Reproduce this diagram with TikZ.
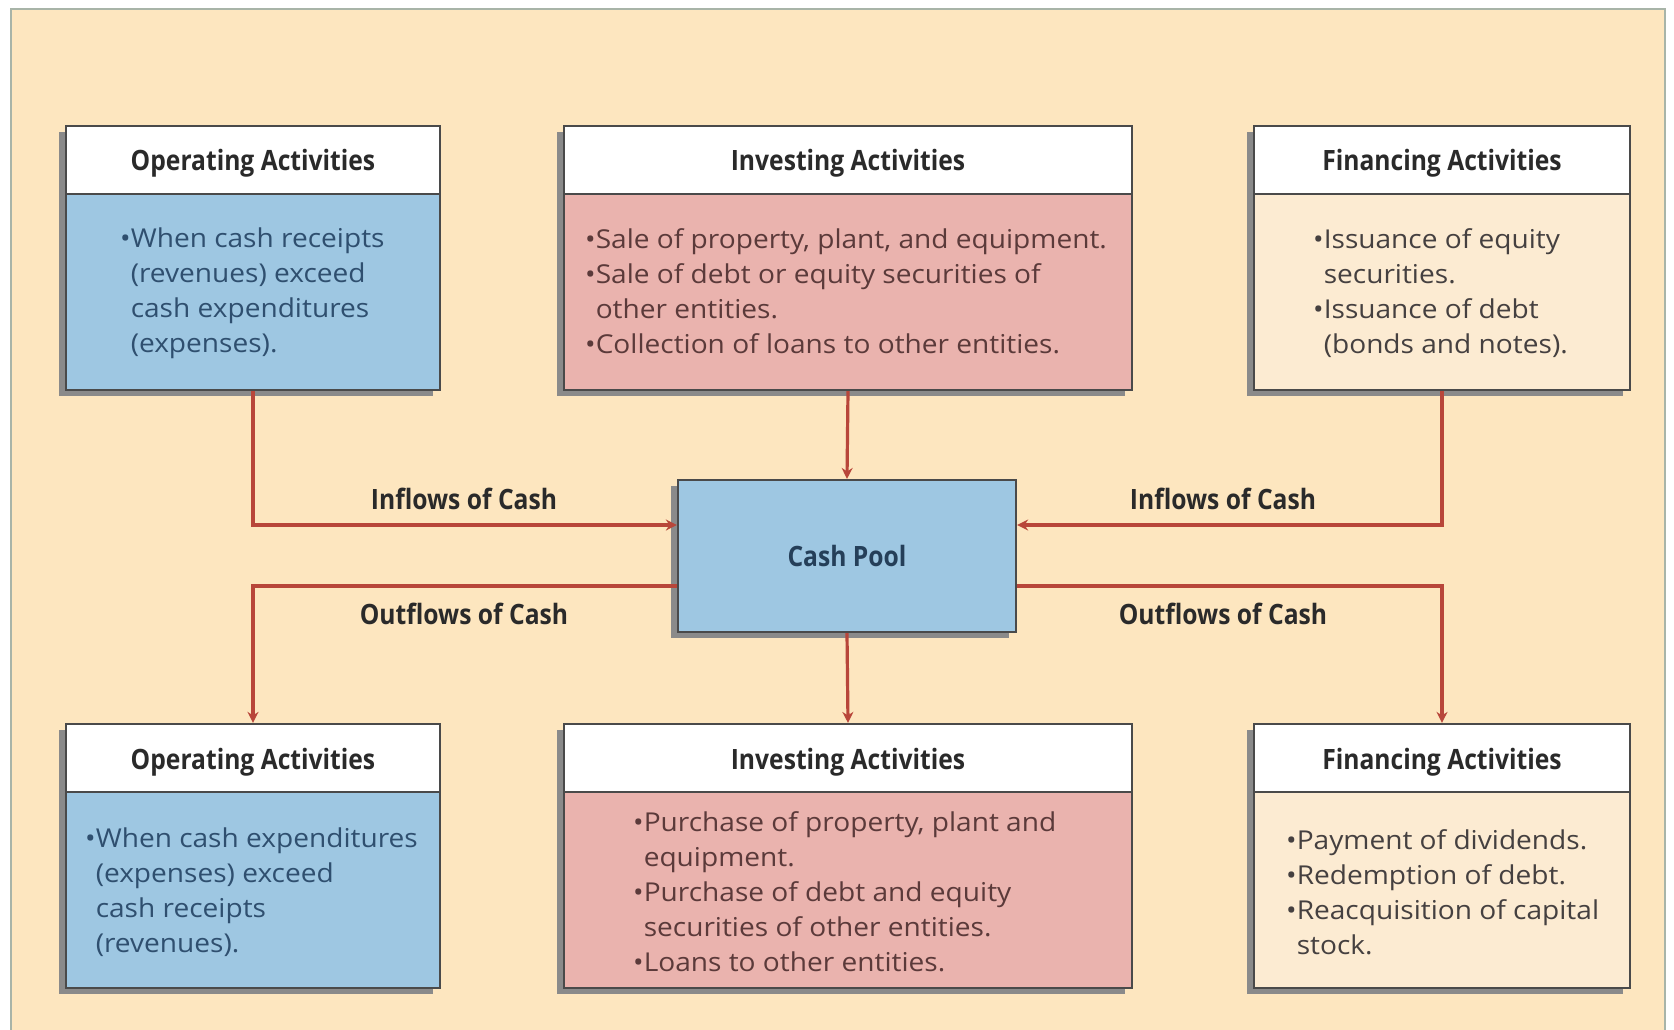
\documentclass[tikz,border=0pt]{standalone}
\usepackage{fontspec}
\setmainfont{Open Sans}
\newfontfamily\hdfont[FakeStretch=0.88]{Open Sans}
\newfontfamily\bdfont[FakeStretch=1.08]{Open Sans}
\usetikzlibrary{shadows,arrows.meta}
\definecolor{bgcol}{HTML}{FDE6BF}
\definecolor{framecol}{HTML}{A8B4A8}
\definecolor{bluecol}{HTML}{9EC7E2}
\definecolor{pinkcol}{HTML}{EAB3AE}
\definecolor{creamcol}{HTML}{FCEBD2}
\definecolor{bordercol}{HTML}{4A4A4A}
\definecolor{shadowcol}{HTML}{8A8A8A}
\definecolor{arrcol}{HTML}{B8463A}
\definecolor{optext}{HTML}{2F4F6F}
\definecolor{invtext}{HTML}{5B3A3A}
\definecolor{fintext}{HTML}{454040}
\definecolor{hdtext}{HTML}{2A2A2A}
\begin{document}
\begin{tikzpicture}[x=1pt,y=-1pt,
  bigbox/.style={draw=bordercol, line width=2.2pt, inner sep=0pt,
    drop shadow={shadow xshift=-7pt,shadow yshift=-6pt,fill=shadowcol,opacity=1}},
  actbox/.style={bigbox, minimum height=264pt},
  hdrbox/.style={draw=bordercol, line width=2.2pt, fill=white, inner sep=0pt,
    minimum height=68pt, anchor=north, text=hdtext, text height=24pt, text depth=2pt,
    font=\hdfont\bfseries\fontsize{28}{32}\selectfont},
  bodytext/.style={anchor=north west, align=left, inner sep=0pt,
    font=\bdfont\fontsize{26}{35}\selectfont},
  lbl/.style={text=hdtext, font=\hdfont\bfseries\fontsize{28}{32}\selectfont, inner sep=0pt},
  arr/.style={draw=arrcol, line width=3.2pt, -{Stealth[length=11pt,width=11pt]}}
]
\useasboundingbox (0,0) rectangle (1674,1030);
\fill[white] (0,0) rectangle (1674,1030);
\draw[framecol, fill=bgcol, line width=1.2pt] (11,9) rectangle (1665,1040);

% top boxes
\node[actbox, fill=bluecol, minimum width=374pt] (opin) at (253,258) {};
\node[hdrbox, minimum width=374pt] (opinh) at (opin.north) {Operating Activities};
\node[actbox, fill=pinkcol, minimum width=568pt] (invin) at (848,258) {};
\node[hdrbox, minimum width=568pt] (invinh) at (invin.north) {Investing Activities};
\node[actbox, fill=creamcol, minimum width=376pt] (finin) at (1442,258) {};
\node[hdrbox, minimum width=376pt] (fininh) at (finin.north) {Financing Activities};

% bottom boxes
\node[actbox, fill=bluecol, minimum width=374pt] (opout) at (253,856) {};
\node[hdrbox, minimum width=374pt] (opouth) at (opout.north) {Operating Activities};
\node[actbox, fill=pinkcol, minimum width=568pt] (invout) at (848,856) {};
\node[hdrbox, minimum width=568pt] (invouth) at (invout.north) {Investing Activities};
\node[actbox, fill=creamcol, minimum width=376pt] (finout) at (1442,856) {};
\node[hdrbox, minimum width=376pt] (finouth) at (finout.north) {Financing Activities};

% cash pool
\node[bigbox, fill=bluecol, minimum width=338pt, minimum height=152pt, text=optext!80!black,
  font=\hdfont\bfseries\fontsize{28}{32}\selectfont] (cash) at (847,556) {Cash Pool};

% body texts
\node[bodytext, text=optext] (opint) at (120,228) {%
  •When cash receipts\\
  \phantom{•}(revenues) exceed\\
  \phantom{•}cash expenditures\\
  \phantom{•}(expenses).};
\node[bodytext, text=invtext] (invint) at (585,228) {%
  •Sale of property, plant, and equipment.\\
  •Sale of debt or equity securities of\\
  \phantom{•}other entities.\\
  •Collection of loans to other entities.};
\node[bodytext, text=fintext] (finint) at (1313,228) {%
  •Issuance of equity\\
  \phantom{•}securities.\\
  •Issuance of debt\\
  \phantom{•}(bonds and notes).};
\node[bodytext, text=optext] (opoutt) at (85,828) {%
  •When cash expenditures\\
  \phantom{•}(expenses) exceed\\
  \phantom{•}cash receipts\\
  \phantom{•}(revenues).};
\node[bodytext, text=invtext] (invoutt) at (633,811) {%
  •Purchase of property, plant and\\
  \phantom{•}equipment.\\
  •Purchase of debt and equity\\
  \phantom{•}securities of other entities.\\
  •Loans to other entities.};
\node[bodytext, text=fintext] (finoutt) at (1286,829) {%
  •Payment of dividends.\\
  •Redemption of debt.\\
  •Reacquisition of capital\\
  \phantom{•}stock.};

% connectors
\draw[arr] (opin.south) |- ([yshift=31pt]cash.west);
\draw[arr] (finin.south) |- ([yshift=31pt]cash.east);
\draw[arr] (invin.south) -- (cash.north);
\draw[arr] ([yshift=-30pt]cash.west) -| (opouth.north);
\draw[arr] ([yshift=-30pt]cash.east) -| (finouth.north);
\draw[arr] (cash.south) -- (invouth.north);

% labels
\node[lbl] (l1) at (464,499) {Inflows of Cash};
\node[lbl] (l2) at (1223,499) {Inflows of Cash};
\node[lbl] (l3) at (464,614) {Outflows of Cash};
\node[lbl] (l4) at (1223,614) {Outflows of Cash};
\end{tikzpicture}
\end{document}
